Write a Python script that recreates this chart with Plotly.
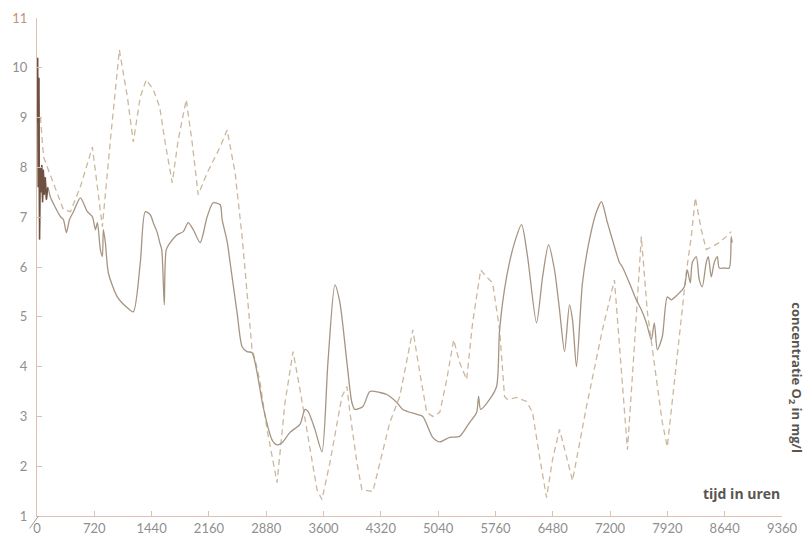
import plotly.graph_objects as go

# Dissolved oxygen over one year (hours), two measuring stations
solid_t = [0, 8, 16, 24, 32, 40, 50, 60, 70, 80, 92, 104, 118, 135, 169,
           295, 332, 370, 408, 458, 545, 633, 696, 734, 759, 796, 821, 834, 859,
           897, 1009, 1135, 1210, 1298, 1360, 1423, 1461, 1511, 1542, 1567, 1599,
           1624, 1674, 1762, 1837, 1900, 1963, 2050, 2138, 2213, 2301, 2326, 2389,
           2426, 2514, 2577, 2639, 2702, 2765, 2840, 2953, 3016, 3078, 3179, 3304,
           3367, 3405, 3492, 3580, 3655, 3743, 3806, 3894, 3956, 3994, 4095, 4182,
           4308, 4395, 4521, 4596, 4772, 4847, 4972, 5060, 5185, 5310, 5436, 5523,
           5548, 5574, 5686, 5774, 5812, 5900, 6000, 6088, 6163, 6276, 6352, 6427,
           6502, 6565, 6628, 6690, 6728, 6778, 6853, 6941, 7029, 7092, 7167, 7255,
           7318, 7355, 7443, 7530, 7593, 7656, 7718, 7756, 7794, 7856, 7919, 7969,
           8045, 8132, 8170, 8208, 8233, 8283, 8321, 8358, 8408, 8434, 8471, 8509,
           8547, 8572, 8634, 8697, 8722, 8734]
solid_v = [8.9, 10.2, 7.6, 9.8, 6.55, 8.0, 7.5, 8.05, 7.3, 7.95, 7.45, 7.8, 7.35, 7.6, 7.4,
           7.01, 6.95, 6.69, 6.95, 7.11, 7.39, 7.11, 7.01, 6.75, 6.89, 6.35, 6.21, 6.75, 6.49,
           5.88, 5.40, 5.18, 5.10, 6.09, 7.11, 7.05, 6.89, 6.69, 6.49, 6.35, 5.24,
           6.35, 6.49, 6.65, 6.71, 6.89, 6.75, 6.49, 7.01, 7.29, 7.25, 6.95, 6.51,
           6.09, 5.08, 4.40, 4.30, 4.28, 3.88, 3.20, 2.53, 2.43, 2.47, 2.68, 2.84,
           3.14, 3.10, 2.74, 2.29, 4.08, 5.64, 5.28, 4.08, 3.28, 3.14, 3.20, 3.50,
           3.48, 3.44, 3.28, 3.14, 3.04, 3.00, 2.58, 2.49, 2.58, 2.60, 2.88, 3.08,
           3.40, 3.14, 3.34, 3.60, 4.74, 5.80, 6.49, 6.85, 6.21, 4.88, 5.80, 6.45,
           5.94, 5.14, 4.30, 5.24, 4.94, 4.00, 5.68, 6.55, 7.11, 7.31, 6.89, 6.41,
           6.09, 6.00, 5.68, 5.34, 5.14, 4.88, 4.54, 4.88, 4.34, 4.60, 5.40, 5.34,
           5.44, 5.60, 5.94, 5.68, 6.09, 6.21, 5.74, 5.60, 6.09, 6.21, 5.80, 6.09,
           6.21, 5.98, 5.98, 5.98, 6.61, 6.49]

dashed_t = [0, 44, 82, 207, 332, 420, 545, 696, 759, 821, 922, 1035, 1135, 1210,
            1298, 1373, 1461, 1542, 1611, 1699, 1774, 1875, 1950, 2025, 2138, 2301,
            2389, 2489, 2577, 2639, 2702, 2740, 2803, 2890, 3016, 3116, 3217, 3304,
            3405, 3518, 3580, 3680, 3831, 3894, 3931, 4019, 4082, 4220, 4308, 4433,
            4558, 4722, 4809, 4897, 4972, 5060, 5148, 5235, 5310, 5398, 5473, 5574,
            5649, 5724, 5812, 5874, 5912, 6025, 6151, 6226, 6314, 6402, 6477, 6565,
            6653, 6728, 6904, 7104, 7255, 7318, 7380, 7418, 7505, 7593, 7668, 7781,
            7856, 7919, 8032, 8158, 8220, 8271, 8346, 8408, 8484, 8572, 8659, 8722]
dashed_v = [9.2, 9.0, 8.21, 7.69, 7.15, 7.11, 7.61, 8.41, 7.61, 6.81, 8.55, 10.36, 9.42, 8.51,
            9.42, 9.76, 9.56, 9.21, 8.49, 7.69, 8.55, 9.36, 8.49, 7.45, 7.89, 8.41,
            8.75, 7.89, 6.61, 5.40, 4.34, 4.14, 3.68, 2.74, 1.67, 3.28, 4.30, 3.54,
            2.60, 1.53, 1.33, 2.07, 3.40, 3.60, 3.08, 2.07, 1.53, 1.49, 2.07, 2.88,
            3.40, 4.74, 3.88, 3.08, 3.00, 3.08, 3.74, 4.54, 4.08, 3.74, 4.88, 5.94,
            5.80, 5.68, 4.74, 3.40, 3.34, 3.38, 3.30, 3.08, 2.19, 1.37, 2.13, 2.74,
            2.19, 1.71, 3.20, 4.74, 5.74, 4.40, 3.08, 2.33, 4.40, 6.61, 5.10, 3.74,
            2.88, 2.39, 4.08, 5.90, 6.61, 7.39, 6.75, 6.35, 6.41, 6.49, 6.61, 6.71]

x_ticks = [0, 720, 1440, 2160, 2880, 3600, 4320, 5040, 5760, 6480, 7200, 7920, 8640, 9360]
y_ticks = list(range(1, 12))
y_ticktext = [str(v) for v in y_ticks[:-1]] + ['<span style="color:#c4907c">11</span>']

AXIS = "#dcc2b6"
SOLID = "#a69483"
DASHED = "#cbb79d"

fig = go.Figure()
fig.add_trace(go.Scatter(x=dashed_t, y=dashed_v, mode="lines",
                         line=dict(color=DASHED, width=1.3, dash="6px,4px")))
fig.add_trace(go.Scatter(x=solid_t, y=solid_v, mode="lines",
                         line=dict(color=SOLID, width=1.3, shape="spline", smoothing=0.7)))
# dense early measurements appear as a dark cluster
n_dense = 14
fig.add_trace(go.Scatter(x=solid_t[:n_dense], y=solid_v[:n_dense], mode="lines",
                         line=dict(color="#6e5142", width=1.5)))

tick_font = dict(family="Lato, 'Noto Sans', sans-serif", size=13, color="#8f8f8f")
title_font = dict(family="'Open Sans', 'Noto Sans', sans-serif", size=13, color="#5a5550")
fig.update_layout(
    width=808, height=543,
    margin=dict(l=36.5, r=25.5, t=18, b=26.5, autoexpand=False),
    paper_bgcolor="white", plot_bgcolor="white",
    showlegend=False,
    xaxis=dict(range=[0, 9360], tickvals=x_ticks, ticktext=[str(v) for v in x_ticks],
               showgrid=False, zeroline=False, showline=True, linecolor=AXIS, linewidth=1,
               ticks="inside", ticklen=5, tickcolor=AXIS, tickfont=tick_font),
    yaxis=dict(range=[1, 11], tickvals=y_ticks, ticktext=y_ticktext,
               showgrid=False, zeroline=False, showline=True, linecolor=AXIS, linewidth=1,
               ticks="inside", ticklen=5, tickcolor=AXIS, tickfont=tick_font, ticklabelstandoff=6),
    annotations=[
        dict(text="<b>concentratie O<sub>2</sub> in mg/l</b>", xref="paper", yref="paper",
             x=1.003, y=0.278, textangle=90, showarrow=False, xanchor="left", yanchor="middle",
             font=title_font),
        dict(text="<b>tijd in uren</b>", xref="paper", yref="paper",
             x=1.0, y=0.045, showarrow=False, xanchor="right", yanchor="middle",
             font=dict(title_font, size=14)),
    ],
    shapes=[
        # axis break mark at the origin
        dict(type="line", xref="paper", yref="paper", x0=-0.010, y0=-0.025, x1=0.002, y1=0.0,
             line=dict(color="#a09a96", width=1)),
    ],
)

fig.write_html("out.html")
